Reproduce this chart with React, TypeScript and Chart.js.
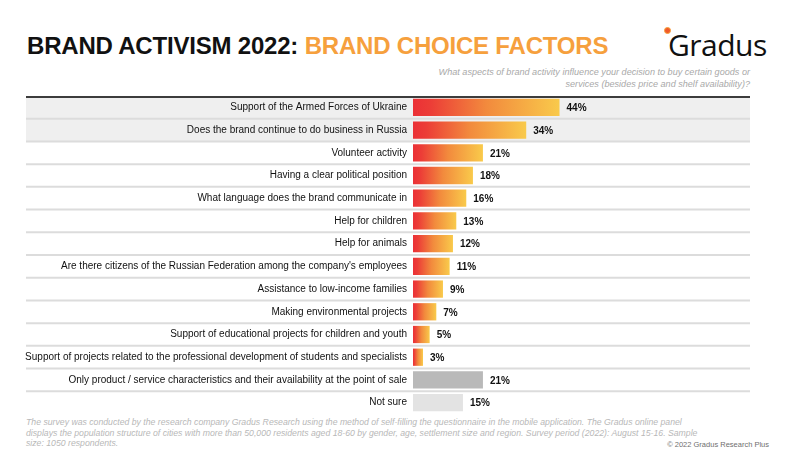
import React, { useEffect, useRef } from 'react';
import { Chart, registerables } from 'chart.js';

Chart.register(...registerables);

const categories = [
  'Support of the Armed Forces of Ukraine',
  'Does the brand continue to do business in Russia',
  'Volunteer activity',
  'Having a clear political position',
  'What language does the brand communicate in',
  'Help for children',
  'Help for animals',
  "Are there citizens of the Russian Federation among the company's employees",
  'Assistance to low-income families',
  'Making environmental projects',
  'Support of educational projects for children and youth',
  'Support of projects related to the professional development of students and specialists',
  'Only product / service characteristics and their availability at the point of sale',
  'Not sure',
];

const shares = [44, 34, 21, 18, 16, 13, 12, 11, 9, 7, 5, 3, 21, 15];

// bars that are not part of the activism list get a flat grey
const flatColors: (string | null)[] = [null, null, null, null, null, null, null, null, null, null, null, null, '#b9b9b9', '#e3e3e3'];

const FONT = "'Liberation Sans', Arial, Helvetica, sans-serif";

const rowsPlugin = {
  id: 'rows',
  beforeDraw(chart: any) {
    const { ctx, chartArea } = chart;
    const n = categories.length;
    const h = (chartArea.bottom - chartArea.top) / n;
    const left = 26;
    const right = 750;
    ctx.save();
    // first two rows are shaded
    ctx.fillStyle = '#efefef';
    ctx.fillRect(left, chartArea.top, right - left, h * 2);
    ctx.lineWidth = 2;
    ctx.strokeStyle = '#dcdcdc';
    for (let i = 1; i < n; i++) {
      const y = chartArea.top + i * h;
      ctx.beginPath();
      ctx.moveTo(left, y);
      ctx.lineTo(right, y);
      ctx.stroke();
    }
    ctx.strokeStyle = '#3c3c3c';
    ctx.beginPath();
    ctx.moveTo(left, chartArea.top + 1);
    ctx.lineTo(right, chartArea.top + 1);
    ctx.stroke();
    ctx.restore();
  },
};

const valuesPlugin = {
  id: 'values',
  afterDatasetsDraw(chart: any) {
    const { ctx } = chart;
    const meta = chart.getDatasetMeta(0);
    ctx.save();
    ctx.font = `bold 10px ${FONT}`;
    ctx.fillStyle = '#111';
    ctx.textBaseline = 'middle';
    ctx.textAlign = 'left';
    meta.data.forEach((bar: any, i: number) => {
      ctx.fillText(`${shares[i]}%`, bar.x + 7, bar.y + 1);
    });
    ctx.restore();
  },
};

const App: React.FC = () => {
  const chartRef = useRef<HTMLCanvasElement>(null);
  const chartInstance = useRef<Chart | null>(null);

  useEffect(() => {
    if (!chartRef.current) return;
    if (chartInstance.current) chartInstance.current.destroy();

    chartInstance.current = new Chart(chartRef.current, {
      type: 'bar',
      data: {
        labels: categories,
        datasets: [
          {
            data: shares,
            backgroundColor: (c: any) => {
              const flat = flatColors[c.dataIndex];
              if (flat) return flat;
              const chart = c.chart;
              const xs = chart.scales && chart.scales.x;
              if (!chart.chartArea || !xs) return '#ef5a38';
              const x0 = xs.getPixelForValue(0);
              const x1 = xs.getPixelForValue(shares[c.dataIndex]);
              const g = chart.ctx.createLinearGradient(x0, 0, x1, 0);
              g.addColorStop(0, '#eb3036');
              g.addColorStop(0.12, '#ec3d37');
              g.addColorStop(0.5, '#f28a3d');
              g.addColorStop(1, '#f9ca4b');
              return g;
            },
            borderWidth: 0,
            barPercentage: 0.76,
            categoryPercentage: 1,
          },
        ],
      },
      options: {
        indexAxis: 'y',
        animation: false,
        responsive: true,
        maintainAspectRatio: false,
        layout: { autoPadding: false, padding: { left: 0, right: 54, top: 0, bottom: 0 } },
        scales: {
          x: { display: false, min: 0, max: 100 },
          y: {
            grid: { display: false, drawTicks: false },
            border: { display: false },
            ticks: {
              color: '#111',
              font: { family: FONT, size: 10 },
              padding: 6,
              autoSkip: false,
            },
            afterFit: (s: any) => {
              s.width = 413;
              s.paddingTop = 0;
              s.paddingBottom = 0;
            },
          },
        },
        plugins: {
          legend: { display: false },
          tooltip: { enabled: false },
        },
      },
      plugins: [rowsPlugin, valuesPlugin],
    });

    return () => {
      if (chartInstance.current) {
        chartInstance.current.destroy();
        chartInstance.current = null;
      }
    };
  }, []);

  return (
    <div
      style={{
        position: 'fixed',
        left: 0,
        top: 0,
        width: 800,
        height: 449,
        background: '#fff',
        fontFamily: FONT,
        overflow: 'hidden',
      }}
    >
      <div
        style={{
          position: 'absolute',
          left: 27,
          top: 32,
          fontSize: 24,
          fontWeight: 'bold',
          whiteSpace: 'nowrap',
          color: '#111',
          letterSpacing: -0.2,
        }}
      >
        BRAND ACTIVISM 2022: <span style={{ color: '#f6a03d' }}>BRAND CHOICE FACTORS</span>
      </div>

      <div style={{ position: 'absolute', left: 664, top: 27, width: 10, height: 10 }}>
        <div
          style={{
            width: 5,
            height: 5,
            borderRadius: '50%',
            background: '#f05a2a',
            border: '1.5px solid #f8a13c',
          }}
        />
      </div>
      <div
        style={{
          position: 'absolute',
          left: 668,
          top: 24,
          fontSize: 30,
          fontFamily: "'Open Sans', sans-serif",
          color: '#111',
          letterSpacing: -0.5,
        }}
      >
        Gradus
      </div>

      <div
        style={{
          position: 'absolute',
          right: 50,
          top: 66,
          textAlign: 'right',
          fontSize: 9.1,
          lineHeight: '12px',
          fontStyle: 'italic',
          color: '#a9a9a9',
          whiteSpace: 'nowrap',
        }}
      >
        What aspects of brand activity influence your decision to buy certain goods or
        <br />
        services (besides price and shelf availability)?
      </div>

      <div style={{ position: 'absolute', left: 0, top: 96, width: 800, height: 318 }}>
        <canvas ref={chartRef}></canvas>
      </div>

      <div
        style={{
          position: 'absolute',
          left: 26,
          top: 417,
          fontSize: 8.7,
          lineHeight: '10.7px',
          fontStyle: 'italic',
          color: '#b8b8b8',
          whiteSpace: 'nowrap',
        }}
      >
        The survey was conducted by the research company Gradus Research using the method of self-filling the questionnaire in the mobile application. The Gradus online panel
        <br />
        displays the population structure of cities with more than 50,000 residents aged 18-60 by gender, age, settlement size and region. Survey period (2022): August 15-16. Sample
        <br />
        size: 1050 respondents.
      </div>

      <div
        style={{
          position: 'absolute',
          right: 31,
          top: 440,
          fontSize: 7.5,
          color: '#6f6f6f',
          whiteSpace: 'nowrap',
        }}
      >
        © 2022 Gradus Research Plus
      </div>
    </div>
  );
};

export default App;
